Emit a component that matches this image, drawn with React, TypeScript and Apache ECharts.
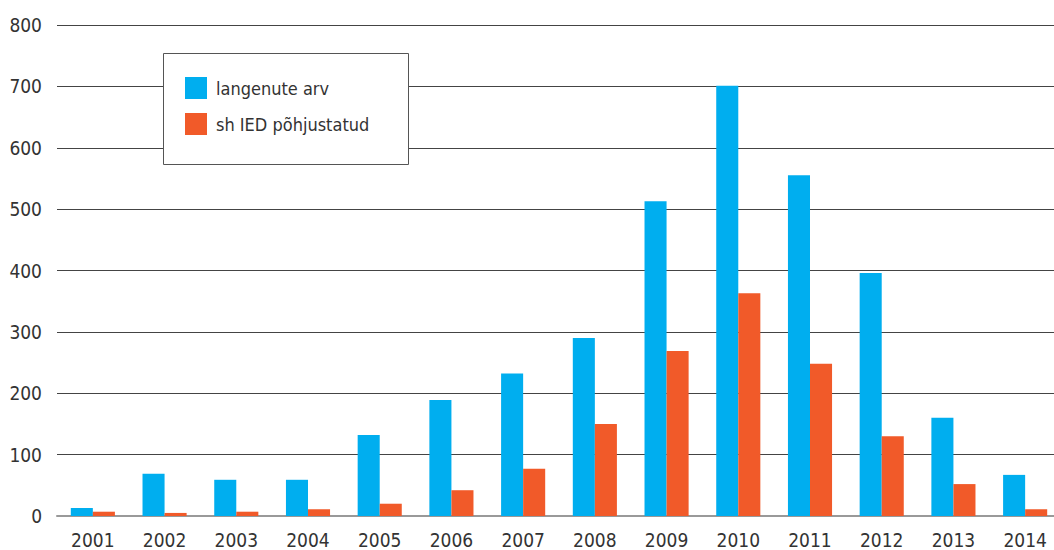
import React, { useEffect, useRef } from "react";
import * as echarts from "echarts";

const years = ["2001", "2002", "2003", "2004", "2005", "2006", "2007", "2008", "2009", "2010", "2011", "2012", "2013", "2014"];
const fallen = [13, 69, 59, 59, 132, 189, 232, 290, 513, 701, 555, 396, 160, 67];
const iedCaused = [7, 5, 7, 11, 20, 42, 77, 150, 269, 363, 248, 130, 52, 11];
const seriesNames = ["langenute arv", "sh IED põhjustatud"];

const FONT = "'Liberation Sans Narrow', 'DejaVu Sans Condensed', 'Roboto', sans-serif";

export default function App() {
  const ref = useRef<HTMLDivElement>(null);
  useEffect(() => {
    if (!ref.current) return;
    const chart = echarts.init(ref.current, undefined, { renderer: "svg" });
    chart.setOption({
      animation: false,
      backgroundColor: "#ffffff",
      textStyle: { fontFamily: FONT },
      grid: { left: 57, right: -7, top: 25, bottom: 34, containLabel: false, outerBoundsMode: "none" },
      graphic: [
        {
          type: "rect",
          z: 50,
          shape: { x: 163.5, y: 53.5, width: 245, height: 111 },
          style: { fill: "#ffffff", stroke: "#555555", lineWidth: 1 },
        },
      ],
      legend: {
        z: 60,
        orient: "vertical",
        left: 163,
        top: 55,
        padding: [22, 10, 10, 22],
        itemWidth: 22,
        itemHeight: 22,
        itemGap: 14,
        icon: "rect",
        data: seriesNames,
        textStyle: { fontFamily: FONT, fontSize: 18, color: "#333333", padding: [0, 0, 0, 4] },
      },
      xAxis: {
        type: "category",
        data: years,
        axisTick: { show: false },
        axisLine: { show: true, lineStyle: { color: "#999999", width: 2 } },
        axisLabel: { fontFamily: FONT, fontSize: 19, lineHeight: 19, color: "#333333", margin: 14 },
      },
      yAxis: {
        type: "value",
        min: 0,
        max: 800,
        interval: 100,
        axisLine: { show: false },
        axisTick: { show: false },
        axisLabel: { fontFamily: FONT, fontSize: 19, color: "#333333", margin: 15 },
        splitLine: { show: true, lineStyle: { color: "#444444", width: 1 } },
      },
      series: [
        {
          name: seriesNames[0],
          type: "bar",
          data: fallen,
          itemStyle: { color: "#00AEEF" },
          barGap: "0%",
          barCategoryGap: "38.5%",
        },
        {
          name: seriesNames[1],
          type: "bar",
          data: iedCaused,
          itemStyle: { color: "#F15A29" },
          barGap: "0%",
          barCategoryGap: "38.5%",
        },
      ],
    });
    return () => chart.dispose();
  }, []);
  return <div ref={ref} style={{ position: "fixed", left: 0, top: 0, width: 1054, height: 550 }} />;
}
